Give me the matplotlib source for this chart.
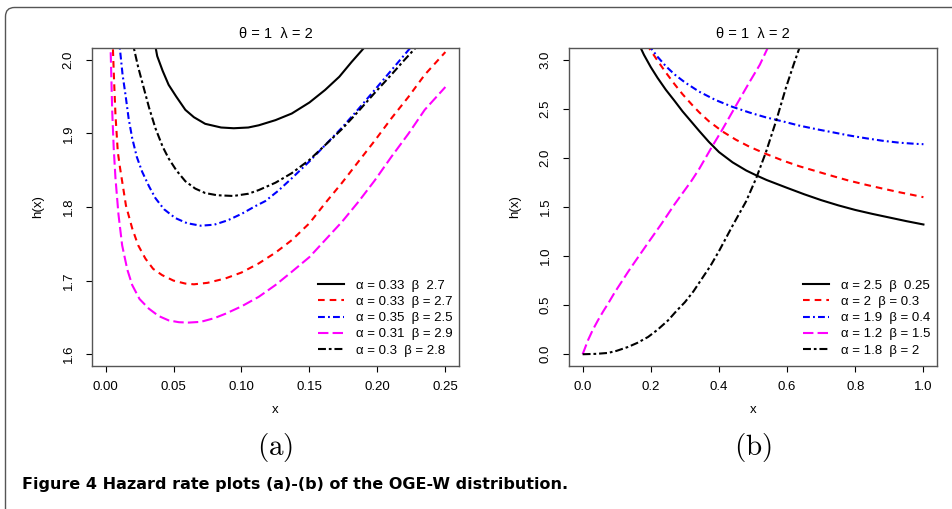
import matplotlib

matplotlib.use("Agg")
from matplotlib import pyplot as plt  # noqa: E402
from matplotlib.patches import FancyBboxPatch  # noqa: E402

# panel (a): hazard curves, theta = 1, lambda = 2
a1_x = [0.0345, 0.0360, 0.0380, 0.0420, 0.0464, 0.0520, 0.0587, 0.0650, 0.0733, 0.0850,
        0.0943, 0.1050, 0.1127, 0.1250, 0.1370, 0.1500, 0.1615, 0.1720, 0.1810, 0.1920]
a1_y = [2.040, 2.025, 2.005, 1.985, 1.966, 1.950, 1.932, 1.922, 1.913, 1.908,
        1.907, 1.908, 1.911, 1.918, 1.927, 1.942, 1.959, 1.977, 1.997, 2.020]

a2_x = [0.0050, 0.0054, 0.0063, 0.0073, 0.0090, 0.0105, 0.0122, 0.0150, 0.0196, 0.0240,
        0.0293, 0.0350, 0.0416, 0.0500, 0.0587, 0.0650, 0.0750, 0.0882, 0.1000, 0.1127,
        0.1250, 0.1370, 0.1500, 0.1615, 0.1740, 0.1860, 0.1980, 0.2104, 0.2230, 0.2348, 0.2500]
a2_y = [2.030, 2.016, 1.970, 1.925, 1.875, 1.855, 1.835, 1.802, 1.771, 1.748,
        1.730, 1.716, 1.7075, 1.700, 1.696, 1.695, 1.697, 1.703, 1.711, 1.7234,
        1.738, 1.755, 1.778, 1.805, 1.833, 1.8616, 1.890, 1.9207, 1.950, 1.9796, 2.0105]

a3_x = [0.0100, 0.0105, 0.0125, 0.0147, 0.0170, 0.0196, 0.0230, 0.0269, 0.0320, 0.0367,
        0.0430, 0.0513, 0.0600, 0.0700, 0.0800, 0.0900, 0.1004, 0.1100, 0.1175, 0.1270,
        0.1370, 0.1500, 0.1615, 0.1740, 0.1860, 0.1980, 0.2104, 0.2200, 0.2260]
a3_y = [2.030, 2.016, 1.980, 1.952, 1.920, 1.8935, 1.868, 1.848, 1.828, 1.812,
        1.797, 1.785, 1.778, 1.7746, 1.776, 1.782, 1.791, 1.801, 1.808, 1.822,
        1.839, 1.862, 1.884, 1.908, 1.933, 1.959, 1.986, 2.007, 2.020]

a4_x = [0.0034, 0.0037, 0.0049, 0.0060, 0.0073, 0.0095, 0.0122, 0.0160, 0.0196, 0.0250,
        0.0318, 0.0390, 0.0464, 0.0540, 0.0611, 0.0700, 0.0800, 0.0882, 0.1000, 0.1127,
        0.1250, 0.1370, 0.1500, 0.1615, 0.1740, 0.1860, 0.1980, 0.2104, 0.2230, 0.2348, 0.2500]
a4_y = [2.030, 2.016, 1.930, 1.880, 1.839, 1.790, 1.748, 1.715, 1.694, 1.675,
        1.662, 1.652, 1.646, 1.6435, 1.643, 1.644, 1.649, 1.655, 1.665, 1.678,
        1.694, 1.712, 1.732, 1.755, 1.780, 1.807, 1.836, 1.8685, 1.900, 1.932, 1.963]

a5_x = [0.0200, 0.0208, 0.0240, 0.0269, 0.0320, 0.0367, 0.0420, 0.0464, 0.0520, 0.0587,
        0.0660, 0.0733, 0.0820, 0.0940, 0.1050, 0.1127, 0.1250, 0.1370, 0.1500, 0.1615,
        0.1740, 0.1860, 0.1980, 0.2104, 0.2200, 0.2300]
a5_y = [2.030, 2.016, 1.990, 1.970, 1.935, 1.907, 1.882, 1.866, 1.850, 1.835,
        1.825, 1.819, 1.816, 1.815, 1.818, 1.823, 1.833, 1.846, 1.864, 1.884,
        1.906, 1.930, 1.955, 1.980, 2.000, 2.020]

# panel (b)
b1_x = [0.165, 0.180, 0.200, 0.220, 0.244, 0.270, 0.293, 0.320, 0.342, 0.370, 0.400, 0.440,
        0.480, 0.511, 0.540, 0.600, 0.650, 0.700, 0.750, 0.800, 0.850, 0.900, 0.950, 1.000]
b1_y = [3.160, 3.050, 2.925, 2.815, 2.695, 2.580, 2.475, 2.365, 2.275, 2.165, 2.060, 1.955,
        1.872, 1.820, 1.775, 1.695, 1.630, 1.570, 1.517, 1.470, 1.430, 1.393, 1.356, 1.322]

b2_x = [0.190, 0.195, 0.220, 0.244, 0.270, 0.293, 0.320, 0.342, 0.370, 0.411, 0.450, 0.489,
        0.538, 0.590, 0.636, 0.690, 0.734, 0.780, 0.832, 0.880, 0.930, 0.970, 1.000]
b2_y = [3.160, 3.120, 2.990, 2.871, 2.750, 2.650, 2.545, 2.465, 2.375, 2.268, 2.185, 2.115,
        2.041, 1.970, 1.915, 1.860, 1.815, 1.770, 1.726, 1.688, 1.650, 1.622, 1.600]

b3_x = [0.195, 0.200, 0.220, 0.244, 0.270, 0.300, 0.342, 0.390, 0.440, 0.490, 0.538, 0.590,
        0.636, 0.690, 0.734, 0.780, 0.832, 0.880, 0.930, 0.980, 1.000]
b3_y = [3.160, 3.120, 3.030, 2.935, 2.850, 2.770, 2.675, 2.590, 2.520, 2.462, 2.413, 2.370,
        2.329, 2.290, 2.261, 2.230, 2.200, 2.175, 2.155, 2.143, 2.140]

b4_x = [0.0, 0.0156, 0.030, 0.045, 0.060, 0.0745, 0.095, 0.1138, 0.133, 0.153, 0.172, 0.192,
        0.2314, 0.2706, 0.320, 0.342, 0.3785, 0.408, 0.447, 0.489, 0.520, 0.543, 0.560]
b4_y = [0.0, 0.142, 0.250, 0.346, 0.435, 0.515, 0.635, 0.735, 0.838, 0.940, 1.035, 1.135,
        1.329, 1.532, 1.770, 1.888, 2.108, 2.278, 2.515, 2.769, 2.950, 3.120, 3.220]

b5_x = [0.0, 0.040, 0.0745, 0.100, 0.133, 0.160, 0.192, 0.220, 0.251, 0.275, 0.300, 0.325,
        0.350, 0.375, 0.400, 0.440, 0.480, 0.510, 0.538, 0.568, 0.597, 0.620, 0.636, 0.650]
b5_y = [0.0, 0.004, 0.0135, 0.035, 0.074, 0.115, 0.176, 0.250, 0.346, 0.440, 0.530, 0.640,
        0.770, 0.900, 1.050, 1.310, 1.560, 1.800, 2.060, 2.380, 2.720, 2.960, 3.120, 3.260]

a_labels = ["α = 0.33  β  2.7", "α = 0.33  β = 2.7", "α = 0.35  β = 2.5",
            "α = 0.31  β = 2.9", "α = 0.3  β = 2.8"]
b_labels = ["α = 2.5  β  0.25", "α = 2  β = 0.3", "α = 1.9  β = 0.4",
            "α = 1.2  β = 1.5", "α = 1.8  β = 2"]
a_xticks = [0.00, 0.05, 0.10, 0.15, 0.20, 0.25]
a_yticks = [1.6, 1.7, 1.8, 1.9, 2.0]
b_xticks = [0.0, 0.2, 0.4, 0.6, 0.8, 1.0]
b_yticks = [0.0, 0.5, 1.0, 1.5, 2.0, 2.5, 3.0]

colors = ["black", "#ff0000", "#0000ff", "#ff00ff", "black"]
dashes = [None, (3.2, 2.4), (3.3, 1.5, 0.9, 1.5), (5.0, 2.0), (3.8, 1.4, 1.3, 1.4)]

plt.rcParams["font.family"] = ["Liberation Sans", "DejaVu Sans"]
plt.rcParams["mathtext.fontset"] = "cm"

figure = plt.figure(figsize=(9.52, 5.09), dpi=100)
frame = FancyBboxPatch(
    (0.055, -1.0), 10.0, 6.015,
    boxstyle="round,pad=0,rounding_size=0.09",
    transform=figure.dpi_scale_trans,
    facecolor="none", edgecolor="#555555", linewidth=1.0,
)
figure.patches.append(frame)


def draw_panel(rect, xs, ys, labels, xticks, yticks, xfmt, yfmt, xlim, ylim, tag, legend_x):
    axis = figure.add_axes(rect)
    for index, (x, y) in enumerate(zip(xs, ys)):
        line, = axis.plot(x, y, color=colors[index], linewidth=1.5, label=labels[index])
        if dashes[index] is not None:
            line.set_dashes(dashes[index])
    axis.set_xlim(*xlim)
    axis.set_ylim(*ylim)
    axis.set_xticks(xticks, labels=[xfmt.format(v) for v in xticks])
    axis.set_yticks(yticks, labels=[yfmt.format(v) for v in yticks])
    axis.tick_params(axis="x", direction="out", length=4.5, width=0.8, pad=6.5, labelsize=9.5)
    axis.tick_params(axis="y", direction="out", length=4.5, width=0.8, pad=8.0, labelsize=9.5)
    for label in axis.get_yticklabels():
        label.set_rotation(90)
        label.set_va("center")
    for spine in axis.spines.values():
        spine.set_color("#555555")
        spine.set_linewidth(1.0)
    axis.set_title("θ = 1  λ = 2", fontsize=10.5, pad=7.5)
    axis.set_xlabel("x", fontsize=9.5, labelpad=7.5)
    axis.set_ylabel("h(x)", fontsize=9.5, labelpad=13.5)
    axis.legend(
        loc="lower left", bbox_to_anchor=(legend_x, 0.0295), frameon=False,
        fontsize=9.5, handlelength=1.95, handletextpad=0.9, labelspacing=0.3,
        borderpad=0.0, borderaxespad=0.0,
    )
    axis.text(0.5, -0.255, r"$\mathrm{(" + tag + r")}$", transform=axis.transAxes,
              ha="center", va="center", fontsize=21)
    return axis


draw_panel([0.0966, 0.2809, 0.3855, 0.6248],
           [a1_x, a2_x, a3_x, a4_x, a5_x], [a1_y, a2_y, a3_y, a4_y, a5_y],
           a_labels, a_xticks, a_yticks, "{:.2f}", "{:.1f}",
           (-0.01, 0.26), (1.584, 2.016), "a", 0.616)
draw_panel([0.5977, 0.2809, 0.3866, 0.6248],
           [b1_x, b2_x, b3_x, b4_x, b5_x], [b1_y, b2_y, b3_y, b4_y, b5_y],
           b_labels, b_xticks, b_yticks, "{:.1f}", "{:.1f}",
           (-0.04, 1.04), (-0.12, 3.12), "b", 0.636)

figure.text(0.0235, 0.039, "Figure 4 Hazard rate plots (a)-(b) of the OGE-W distribution.",
            family="DejaVu Sans", fontweight="bold", fontsize=11.5,
            ha="left", va="baseline")

figure.savefig("out.png", dpi=100)
plt.close(figure)
